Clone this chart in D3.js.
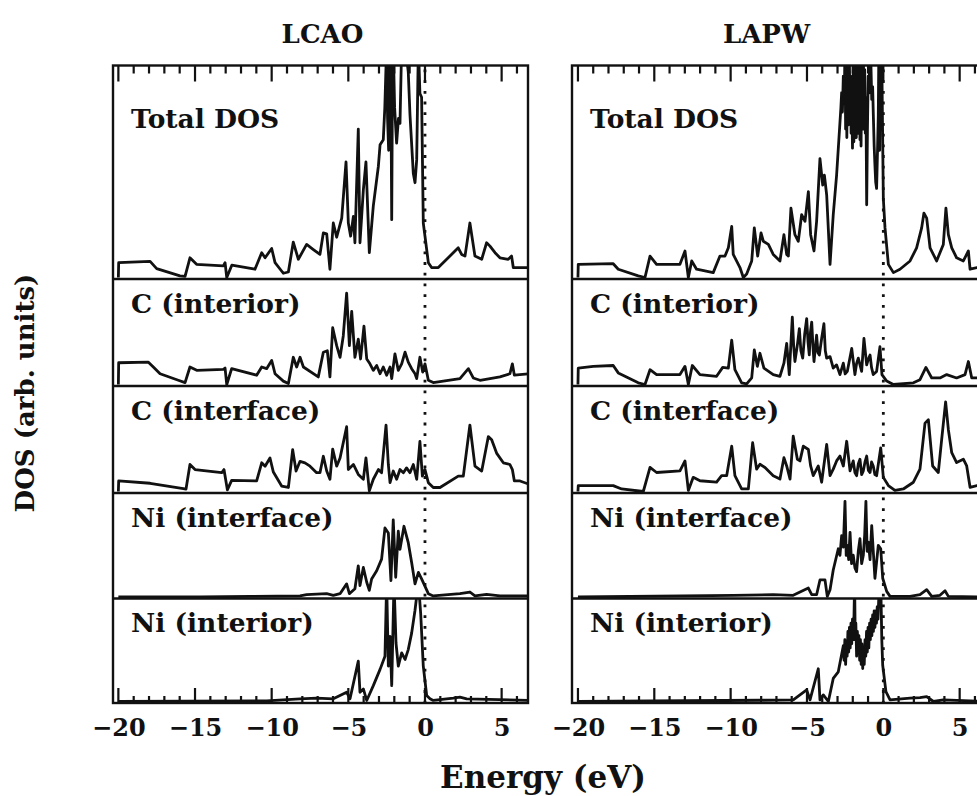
<!DOCTYPE html>
<html>
<head>
<meta charset="utf-8">
<script src="https://cdn.jsdelivr.net/npm/d3@7"></script>
<style>
  body { margin: 0; background: #fff; }
  text { font-family: "DejaVu Serif", serif; font-weight: bold; fill: #111; }
</style>
</head>
<body>
<div id="graph"></div>
<script>
// dados: energia (eV) e DOS (unidades arbitrarias)
const methods = ["LCAO", "LAPW"];
const rowNames = ["Total DOS", "C (interior)", "C (interface)", "Ni (interface)", "Ni (interior)"];
const majorTicks = [-20, -15, -10, -5, 0, 5];
const minorTicks = [-20, -19, -18, -17, -16, -15, -14, -13, -12, -11, -10, -9, -8, -7, -6, -5, -4, -3, -2, -1, 0, 1, 2, 3, 4, 5, 6];

const lcaoTotal = [[-20,0],[-19.98,7],[-17.93,7.6],[-17.5,4.2],[-15.98,0.8],[-15.65,0.5],[-15.33,9.3],[-14.9,6.2],[-13.15,5.5],[-13.04,7],[-12.93,0],[-12.6,5.8],[-11.09,3.9],[-10.65,11.7],[-10.43,9.3],[-10,13.7],[-9.78,7],[-9.24,2],[-8.91,2.6],[-8.59,16.7],[-8.26,8.6],[-7.72,15.6],[-7.28,13.2],[-6.85,10.9],[-6.63,21],[-6.41,20.6],[-6.2,3.9],[-5.98,25.7],[-5.76,19],[-5.43,28],[-5.15,54.5],[-5,25.7],[-4.85,19.5],[-4.67,28.8],[-4.57,16.4],[-4.35,70],[-4.24,16.4],[-4.02,41.3],[-3.85,54.5],[-3.63,11.7],[-3.37,33.8],[-3.04,52.5],[-2.93,62.6],[-2.72,65],[-2.62,80],[-2.5,110],[-2.44,75],[-2.37,60],[-2.3,105],[-2.24,110],[-2.17,27.3],[-2.12,95],[-2.07,110],[-1.98,80],[-1.85,63.4],[-1.73,75],[-1.63,72.7],[-1.52,110],[-1.3,110],[-1.09,97],[-0.98,77],[-0.76,49],[-0.65,44.7],[-0.54,55.6],[-0.43,110],[-0.33,86.8],[-0.22,85],[-0.11,25.7],[0,19.5],[0.22,7],[0.43,4.7],[0.87,4.7],[2.17,14],[2.39,10.9],[2.61,10.1],[2.93,25.7],[3.26,10.1],[3.7,8.6],[4.02,16.4],[4.24,14.8],[4.57,11.7],[4.89,9.3],[5.43,8.6],[5.65,10.1],[5.76,4.7],[6.8,4.7]];

const lcaoCInterior = [[-20,0],[-19.98,10.3],[-18.04,10.6],[-17.72,8.3],[-17.28,5.1],[-16.09,2],[-15.65,0.9],[-15.33,8.3],[-14.89,6.7],[-13.15,7.2],[-13.04,7.8],[-12.93,0],[-12.61,7.5],[-10.98,4.4],[-10.65,8.3],[-10.33,7.5],[-10,11.4],[-9.78,5.1],[-9.24,1.6],[-8.91,0.5],[-8.59,12.9],[-8.37,8.3],[-8.15,12.9],[-7.93,8.3],[-6.96,3.6],[-6.63,15.3],[-6.37,16],[-6.2,3.6],[-6.02,26.9],[-5.76,18.4],[-5.54,12.9],[-5.33,23],[-5.11,43.3],[-4.93,18.4],[-4.78,34.7],[-4.57,12.9],[-4.35,21.5],[-4.2,12.1],[-3.98,27.7],[-3.8,12.1],[-3.59,9.8],[-3.37,6.7],[-3.15,9],[-2.93,5.1],[-2.72,8.3],[-2.5,4.4],[-2.28,8.3],[-2.17,2.8],[-1.96,14.5],[-1.74,6.7],[-1.52,9.8],[-1.3,15.3],[-1.09,10.6],[-0.87,7.5],[-0.65,5.1],[-0.54,2.8],[-0.33,12.9],[-0.15,5.9],[0,9.8],[0.22,2],[0.54,0.9],[2.28,2.8],[2.83,7.5],[3.15,3.1],[3.59,2],[4.89,3.6],[5.54,5.1],[5.7,9.8],[5.83,4.4],[6.8,5.1]];

const lcaoCInterface = [[-20,0],[-19.98,5],[-17.93,3.9],[-15.76,1.4],[-15.59,1.1],[-15.33,12.8],[-15,10.4],[-13.26,8.9],[-13.11,10.4],[-12.89,0.8],[-12.61,5.3],[-10.98,5],[-10.65,13.6],[-10.43,12],[-10.11,15.9],[-9.89,9.2],[-9.35,2.6],[-8.91,1.9],[-8.63,19.8],[-8.41,9.7],[-8.15,14.3],[-7.83,13.6],[-7.5,12],[-7.07,8.9],[-6.85,8.9],[-6.63,16.7],[-6.41,9.7],[-6.2,5.8],[-6.02,20.1],[-5.76,12],[-5.54,15.9],[-5.11,30.7],[-5,10.4],[-4.67,12.8],[-4.35,8.1],[-4.02,5.8],[-3.85,15.9],[-3.63,0.3],[-3.37,5.8],[-3.04,10.4],[-2.83,8.9],[-2.54,31.5],[-2.39,12.8],[-2.28,4.2],[-2.07,9.7],[-1.85,5.8],[-1.63,10.4],[-1.41,8.9],[-1.2,11.2],[-0.98,8.9],[-0.76,12.8],[-0.54,5.8],[-0.33,23.7],[-0.17,7.3],[0,10.4],[0.22,4.2],[0.54,1.9],[0.98,1.9],[2.17,7.3],[2.5,7.3],[2.93,31.5],[3.26,12],[3.7,9.7],[4.13,26],[4.35,24.5],[4.67,18.2],[5.11,13.6],[5.54,12.8],[5.7,10.4],[5.83,5],[6.2,5],[6.8,3.4]];

const lcaoNiInterface = [[-20,0],[-14.67,0],[-11.4,0.3],[-8.15,0.5],[-7.72,1.1],[-6.41,1.6],[-5.98,0.8],[-5.54,1.6],[-5.11,6.3],[-4.93,1.6],[-4.57,4],[-4.35,15],[-4.24,5.5],[-4.02,14.2],[-3.8,7.1],[-3.63,3.2],[-3.48,8.7],[-3.15,12.6],[-2.83,18.2],[-2.61,33.2],[-2.39,30.8],[-2.22,7.9],[-2.07,37.1],[-1.91,9.5],[-1.74,31.6],[-1.63,22.9],[-1.37,34],[-1.09,26.1],[-0.87,16.6],[-0.65,6.3],[-0.43,11.8],[-0.22,8.7],[0.22,1.6],[0.54,0.5],[2.28,1.6],[2.93,2.4],[3.26,0.5],[4.02,1.3],[4.89,0.5],[6.8,0.5]];

const lcaoNiInterior = [[-20,0],[-10.33,0.3],[-8.15,1.3],[-7.07,1.6],[-5.98,1.3],[-5.11,4.5],[-4.89,1.3],[-4.35,19.6],[-4.24,4.5],[-4.02,6.1],[-3.8,0.5],[-3.37,7.7],[-2.93,15.6],[-2.61,22],[-2.5,58],[-2.39,17.2],[-2.28,31.6],[-2.17,7.7],[-2.02,58],[-1.89,28.4],[-1.74,17.2],[-1.52,23.6],[-1.3,20.4],[-1.09,25.2],[-0.87,33.2],[-0.65,44.3],[-0.43,58],[-0.28,42.7],[-0.11,17.2],[0.11,2.9],[0.33,1.3],[0.54,0.5],[1.85,1.6],[2.28,2.1],[2.72,1.3],[6.8,0.5]];

const lapwTotal = [[-20,0],[-19.98,6.2],[-17.69,6.5],[-17.36,3.9],[-16.05,0.8],[-15.61,0],[-15.28,10.1],[-14.85,6.2],[-13.32,6.2],[-12.99,12.5],[-12.77,0],[-12.55,7.8],[-12.23,3.9],[-11.14,2.3],[-10.7,10.1],[-10.37,10.1],[-10.15,14],[-9.93,24.1],[-9.83,10.9],[-9.39,4.7],[-9.17,0],[-8.95,1.6],[-8.62,7.8],[-8.45,23.4],[-8.23,10.1],[-8.01,21],[-7.86,17.1],[-7.53,15.6],[-7.21,10.9],[-6.77,7.8],[-6.51,20.2],[-6.33,10.9],[-6.22,10.1],[-6.05,32.7],[-5.79,20.2],[-5.57,17.1],[-5.35,29.6],[-5.13,26.5],[-4.91,40.5],[-4.76,20.2],[-4.54,12.5],[-4.37,26.5],[-4.15,56.1],[-3.97,43.6],[-3.86,48.3],[-3.71,38.9],[-3.49,6.2],[-3.28,29.6],[-3.06,48.3],[-2.84,73.2],[-2.78,80],[-2.73,87.2],[-2.68,78],[-2.62,95],[-2.56,82],[-2.51,110],[-2.47,70],[-2.43,105],[-2.39,66],[-2.36,90],[-2.32,110],[-2.28,72],[-2.23,110],[-2.19,78],[-2.15,95],[-2.11,68],[-2.07,88],[-2.02,61],[-1.97,100],[-1.93,64],[-1.89,110],[-1.85,70],[-1.81,96],[-1.77,66],[-1.73,110],[-1.69,68],[-1.65,92],[-1.61,74],[-1.57,110],[-1.53,65],[-1.49,100],[-1.46,62],[-1.42,88],[-1.38,110],[-1.34,70],[-1.31,110],[-1.27,76],[-1.22,98],[-1.18,68],[-1.14,85],[-1.09,34.3],[-1.04,70],[-0.99,95],[-0.94,87],[-0.88,110],[-0.81,100],[-0.76,84],[-0.7,90],[-0.66,78],[-0.6,62],[-0.55,53],[-0.5,45],[-0.44,42],[-0.38,60],[-0.33,76.3],[-0.29,110],[-0.24,60],[-0.2,110],[-0.15,80],[-0.11,110],[-0.05,70],[0,37.4],[0.11,23.4],[0.33,6.2],[0.66,2.3],[1.09,3.9],[1.75,7.8],[2.18,14],[2.51,23.4],[2.66,30.4],[2.84,28],[3.06,14],[3.49,7.8],[3.93,15.6],[4.1,32.7],[4.26,20.2],[4.48,14],[4.8,9.3],[5.24,7.8],[5.57,12.5],[5.68,3.9],[6.14,4.7],[6.9,4.7]];

const lapwCInterior = [[-20,0],[-19.98,7.8],[-19,8.6],[-17.69,9],[-17.36,5.5],[-16.05,0.8],[-15.61,0],[-15.28,7],[-14.85,4.7],[-13.32,4.7],[-12.99,8.6],[-12.77,0],[-12.51,9],[-12.01,4.7],[-10.92,3.9],[-10.52,8.1],[-10.15,7.8],[-9.93,21],[-9.72,7],[-9.28,0.8],[-8.95,0.3],[-8.62,3.1],[-8.45,16.4],[-8.25,8.6],[-8.08,14.8],[-7.82,7.8],[-7.21,4.7],[-6.77,3.9],[-6.51,10.1],[-6.33,19.5],[-6.16,4.7],[-5.96,31.9],[-5.87,18],[-5.79,10.9],[-5.63,18.7],[-5.5,26.5],[-5.4,16],[-5.28,12.5],[-5.15,24],[-5.02,31.2],[-4.93,20],[-4.85,14],[-4.77,25],[-4.69,29.6],[-4.6,17],[-4.54,10.9],[-4.37,23.4],[-4.28,15],[-4.19,14],[-4.04,21.8],[-3.89,28.8],[-3.8,16],[-3.71,12.5],[-3.49,13.2],[-3.28,7.8],[-3.06,9.3],[-2.84,4.7],[-2.62,10.1],[-2.5,5],[-2.36,6.2],[-2.07,17.1],[-1.86,4.7],[-1.75,10],[-1.64,12.5],[-1.42,6.2],[-1.27,21.8],[-1.09,9.3],[-0.98,12],[-0.87,14],[-0.77,8],[-0.66,4.7],[-0.44,6.2],[-0.22,17.9],[-0.09,4.7],[0.22,1.6],[0.66,0],[1.97,0.8],[2.4,2.3],[2.79,8.1],[3.17,3.1],[3.71,3.1],[4.15,4.7],[4.8,3.1],[5.35,4.7],[5.57,10.9],[5.79,3.1],[6.9,3.1]];

const lapwCInterface = [[-20,0],[-19.98,2.8],[-17.69,2.8],[-17.14,1.2],[-15.72,0],[-15.28,11.4],[-14.85,9],[-13.32,9.8],[-12.99,14.5],[-12.77,0.5],[-12.45,6.7],[-12.01,5.1],[-10.92,4.4],[-10.59,7.5],[-10.26,7.5],[-9.93,21.5],[-9.72,7.5],[-9.28,1.2],[-8.84,1.2],[-8.56,23.1],[-8.3,10.6],[-8.08,12.9],[-7.75,11.4],[-7.21,7.5],[-6.77,5.9],[-6.51,16],[-6.33,12.1],[-6.11,5.9],[-5.9,26.2],[-5.63,15.3],[-5.46,14.5],[-5.24,21.5],[-4.91,19.9],[-4.76,12.1],[-4.59,7.5],[-4.26,12.1],[-4.04,4.4],[-3.71,22.3],[-3.49,7.5],[-3.28,10.6],[-3.06,14.5],[-2.84,16.8],[-2.62,12.1],[-2.4,23.8],[-2.18,9.8],[-1.97,14.5],[-1.86,9],[-1.75,7.5],[-1.64,13],[-1.53,15.3],[-1.42,8],[-1.31,9.8],[-1.2,14],[-1.09,16.8],[-0.98,10],[-0.87,9],[-0.77,14],[-0.66,12.1],[-0.55,8],[-0.44,7.5],[-0.17,20.7],[0,6.7],[0.33,2.8],[0.76,0.5],[1.31,1.2],[1.97,4.4],[2.4,10.6],[2.73,32.4],[2.95,34],[3.23,12.1],[3.6,9],[3.82,24.6],[4.08,42.5],[4.26,29.3],[4.48,18.4],[4.8,13.7],[5.24,15.3],[5.46,12.1],[5.68,2],[6.14,2.8],[6.9,2.8]];

const lapwNiInterface = [[-20,0],[-9.83,0.8],[-7.21,1.1],[-5.9,0.8],[-4.91,4.3],[-4.69,1.1],[-4.37,1.1],[-4.15,8.2],[-3.82,8.2],[-3.67,0.3],[-3.49,3.5],[-3.28,13],[-2.95,23.2],[-2.84,20],[-2.73,29.5],[-2.62,24],[-2.51,46],[-2.43,20],[-2.36,24.8],[-2.27,18],[-2.18,31.1],[-2.08,16],[-1.97,20.1],[-1.86,14],[-1.75,12.2],[-1.64,22],[-1.53,28],[-1.42,16],[-1.31,20.1],[-1.22,30],[-1.14,46],[-1.06,22],[-0.98,26.4],[-0.87,18],[-0.76,34.3],[-0.55,9],[-0.33,24.8],[-0.17,23.2],[-0.04,9],[0.22,2.7],[0.44,0.3],[1.75,0.3],[2.4,1.1],[2.84,3.5],[3.17,0.3],[3.71,0.8],[4.04,3],[4.26,0.3],[6.9,0]];

const lapwNiInterior = [[-20,0],[-8.08,0.6],[-5.9,0.8],[-5.02,5.6],[-4.8,0.8],[-4.26,15.9],[-4.15,0.8],[-3.93,3.2],[-3.6,0],[-3.28,11.2],[-2.95,14.4],[-2.62,27.1],[-2.57,20],[-2.52,30],[-2.47,18],[-2.42,28],[-2.37,22],[-2.32,34],[-2.27,24],[-2.22,36],[-2.17,26],[-2.12,38],[-2.07,28],[-2.02,40],[-1.97,30],[-1.92,42],[-1.88,58],[-1.84,30],[-1.8,38],[-1.75,22],[-1.7,34],[-1.65,24],[-1.6,32],[-1.55,20],[-1.5,30],[-1.45,18],[-1.4,28],[-1.35,16],[-1.3,26],[-1.25,18],[-1.2,30],[-1.15,22],[-1.1,34],[-1.05,24],[-1,36],[-0.95,26],[-0.9,38],[-0.85,30],[-0.8,40],[-0.75,32],[-0.7,42],[-0.65,34],[-0.6,44],[-0.55,36],[-0.5,44],[-0.45,38],[-0.4,46],[-0.35,40],[-0.3,50],[-0.26,58],[-0.17,58],[-0.1,30],[-0.04,17.5],[0.17,4.8],[0.44,0.8],[1.75,1.6],[2.4,1.9],[2.84,2.4],[3.28,0],[3.93,0.8],[6.9,0]];

const seriesData = [
  [lcaoTotal, lcaoCInterior, lcaoCInterface, lcaoNiInterface, lcaoNiInterior],
  [lapwTotal, lapwCInterior, lapwCInterface, lapwNiInterface, lapwNiInterior]
];
const yMaxes = [100, 50, 50, 50, 50];

// geometria da figura
const width = 977;
const height = 796;
const panels = [
  { x0: 113, x1: 528, domain: [-20.35, 6.72] },
  { x0: 572, x1: 987, domain: [-20.39, 6.79] }
];
const rowTops = [65.5, 279, 386, 493, 598.5];
const rowBottoms = [279, 386, 493, 598.5, 703];
const labelOffsets = [62.5, 34, 34, 34, 33];

const svg = d3.select("#graph")
  .append("svg")
  .attr("width", width)
  .attr("height", height);

const defs = svg.append("defs");

panels.forEach((p, pi) => {
  const g = svg.append("g");
  const xScale = d3.scaleLinear().domain(p.domain).range([p.x0, p.x1]);

  // ticks para dentro, em cima e em baixo (um path so para cada lado)
  const isMajor = d => majorTicks.includes(d);
  const tickPath = d3.path();
  minorTicks.forEach(d => {
    const x = xScale(d);
    tickPath.moveTo(x, rowTops[0]);
    tickPath.lineTo(x, rowTops[0] + (isMajor(d) ? 16 : 8));
    tickPath.moveTo(x, rowBottoms[4]);
    tickPath.lineTo(x, rowBottoms[4] - (isMajor(d) ? 15 : 7));
  });
  g.append("path")
    .attr("d", tickPath.toString())
    .attr("fill", "none")
    .attr("stroke", "#111")
    .attr("stroke-width", 2.2);

  // curvas de cada linha
  rowNames.forEach((name, ri) => {
    const yScale = d3.scaleLinear()
      .domain([0, yMaxes[ri]])
      .range([rowBottoms[ri] - 1.5, rowTops[ri]]);

    const clipId = `clip-${pi}-${ri}`;
    defs.append("clipPath").attr("id", clipId)
      .append("rect")
      .attr("x", p.x0)
      .attr("y", rowTops[ri])
      .attr("width", p.x1 - p.x0)
      .attr("height", rowBottoms[ri] - rowTops[ri]);

    const line = d3.line()
      .x(d => xScale(d[0]))
      .y(d => yScale(d[1]));

    g.append("path")
      .datum(seriesData[pi][ri])
      .attr("clip-path", `url(#${clipId})`)
      .attr("d", line)
      .attr("fill", "none")
      .attr("stroke", "#111")
      .attr("stroke-width", 2.8)
      .attr("stroke-linejoin", "round");

    g.append("text")
      .attr("x", p.x0 + 18)
      .attr("y", rowTops[ri] + labelOffsets[ri])
      .attr("font-size", "26.5px")
      .text(name);
  });

  // moldura e separadores
  g.append("rect")
    .attr("x", p.x0)
    .attr("y", rowTops[0])
    .attr("width", p.x1 - p.x0)
    .attr("height", rowBottoms[4] - rowTops[0])
    .attr("fill", "none")
    .attr("stroke", "#111")
    .attr("stroke-width", 2.4);

  g.selectAll(".sep")
    .data(rowBottoms.slice(0, 4))
    .join("line")
    .attr("class", "sep")
    .attr("x1", p.x0)
    .attr("x2", p.x1)
    .attr("y1", d => d)
    .attr("y2", d => d)
    .attr("stroke", "#111")
    .attr("stroke-width", 2.4);

  // linha pontilhada no nivel de Fermi
  g.append("line")
    .attr("x1", xScale(0))
    .attr("x2", xScale(0))
    .attr("y1", rowTops[0] + 4)
    .attr("y2", rowBottoms[4])
    .attr("stroke", "#111")
    .attr("stroke-width", 2.8)
    .attr("stroke-dasharray", "2.8,7.9");

  const botLabels = g.append("g")
    .attr("transform", `translate(0, ${rowBottoms[4]})`)
    .call(d3.axisBottom(xScale).tickValues(majorTicks).tickSize(0).tickPadding(16));
  botLabels.select(".domain").remove();
  botLabels.selectAll("text")
    .attr("font-size", "24px")
    .attr("font-family", "DejaVu Serif")
    .attr("font-weight", "bold")
    .attr("fill", "#111");

  // titulo do metodo
  svg.append("text")
    .attr("x", (p.x0 + Math.min(p.x1, 977)) / 2 + (pi === 0 ? 2 : -8))
    .attr("y", 43)
    .attr("font-size", "26px")
    .attr("text-anchor", "middle")
    .text(methods[pi]);
});

// eixos globais
svg.append("text")
  .attr("x", 543)
  .attr("y", 788)
  .attr("font-size", "31px")
  .attr("text-anchor", "middle")
  .text("Energy (eV)");

svg.append("text")
  .attr("transform", "translate(34, 393) rotate(-90)")
  .attr("font-size", "26px")
  .attr("text-anchor", "middle")
  .text("DOS (arb. units)");
</script>
</body>
</html>
